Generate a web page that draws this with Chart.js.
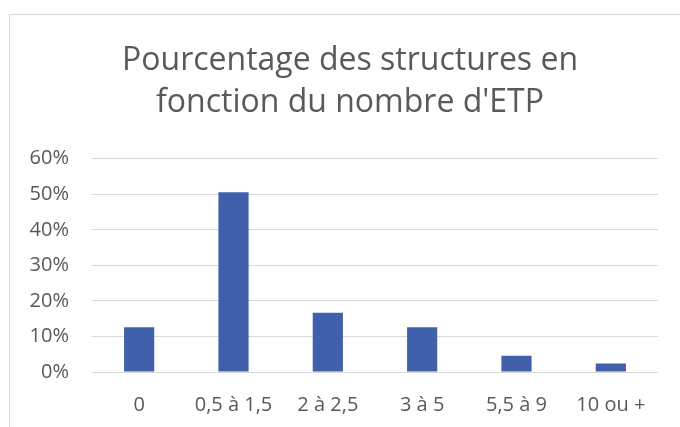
<!DOCTYPE html>
<html><head><meta charset="utf-8">
<script src="https://cdn.jsdelivr.net/npm/chart.js@4"></script>
<style>
html,body{margin:0;padding:0;background:#fff;}
#wrap{position:relative;width:680px;height:427px;}
#frame{position:absolute;left:9px;top:14px;width:680px;height:420px;border:1px solid #d9d9d9;box-sizing:border-box;}
canvas{position:absolute;left:0;top:0;}
</style></head>
<body><div id="wrap"><div id="frame"></div><canvas id="c" width="680" height="427"></canvas></div>
<script>
const titleLines = ["Pourcentage des structures en", "fonction du nombre d'ETP"];
const categories = ["0", "0,5 à 1,5", "2 à 2,5", "3 à 5", "5,5 à 9", "10 ou +"];
const values = [12.6, 50.6, 16.7, 12.6, 4.6, 2.4];
const yTicks = [0, 10, 20, 30, 40, 50, 60];

const FONT = "'Open Sans', sans-serif";
const GREY = '#595959';
const shiftTitle = { id: 'shiftTitle', afterLayout(chart) { const t = chart.titleBlock; if (t) { t.left += 21; t.right += 21; } } };
new Chart(document.getElementById('c'), {
  type: 'bar',
  data: { labels: categories, datasets: [{ data: values, backgroundColor: '#4060ac', borderWidth: 0, barPercentage: 0.32, categoryPercentage: 1 }] },
  plugins: [shiftTitle],
  options: {
    responsive: false, animation: false,
    layout: { padding: { left: 0, right: 22, top: 0, bottom: 10 } },
    plugins: {
      legend: { display: false }, tooltip: { enabled: false },
      title: { display: true, text: titleLines, color: GREY, font: { family: FONT, size: 32, weight: 'normal', lineHeight: 1.34 }, padding: { top: 39, bottom: 34 } }
    },
    scales: {
      x: { grid: { display: false, drawTicks: false }, border: { display: false },
           afterFit: s => { s.height = 45; },
           ticks: { color: GREY, font: { family: FONT, size: 20 }, padding: 21, maxRotation: 0, autoSkip: false } },
      y: { min: 0, max: 60, afterBuildTicks: s => { s.ticks = yTicks.map(v => ({ value: v })); },
           afterFit: s => { s.width = 92; },
           grid: { color: '#d9d9d9', lineWidth: 1, drawTicks: false }, border: { display: false },
           ticks: { color: GREY, font: { family: FONT, size: 20 }, padding: 23, callback: v => v + '%' } }
    }
  }
});
</script></body></html>
